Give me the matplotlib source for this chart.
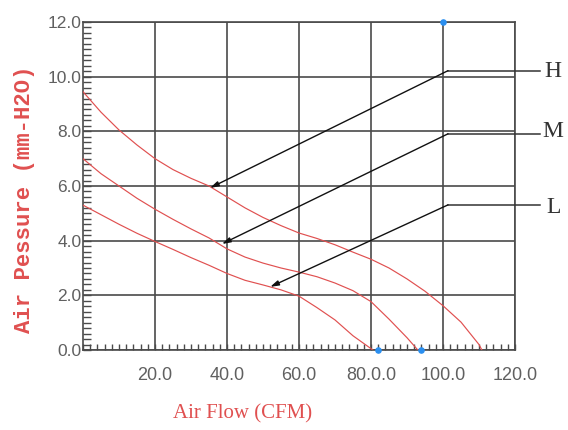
import matplotlib
matplotlib.use("Agg")
import matplotlib.pyplot as plt
from matplotlib.ticker import MultipleLocator

# ---- data ----
h_flow = [0, 5, 10, 15, 20, 25, 30, 35, 40, 45, 50, 55, 60, 65, 70, 75, 80, 85, 90, 95, 100, 105, 110, 110.8]
h_pres = [9.45, 8.7, 8.05, 7.5, 7.0, 6.6, 6.28, 6.0, 5.6, 5.2, 4.85, 4.55, 4.28, 4.08, 3.85, 3.58, 3.32, 3.0, 2.6, 2.15, 1.62, 1.02, 0.2, 0.0]

m_flow = [0, 5, 10, 15, 20, 25, 30, 35, 40, 45, 50, 55, 60, 65, 70, 75, 80, 85, 90, 93]
m_pres = [7.0, 6.45, 6.0, 5.55, 5.15, 4.78, 4.43, 4.1, 3.7, 3.4, 3.18, 3.0, 2.85, 2.68, 2.45, 2.17, 1.77, 1.13, 0.45, 0.0]

l_flow = [0, 5, 10, 15, 20, 25, 30, 35, 40, 45, 50, 55, 60, 65, 70, 75, 80, 80.5]
l_pres = [5.3, 4.95, 4.6, 4.27, 3.97, 3.68, 3.38, 3.1, 2.8, 2.55, 2.38, 2.2, 1.97, 1.55, 1.1, 0.52, 0.05, 0.0]

speed_labels = ["H", "M", "L"]
leader_y = [10.22, 7.91, 5.31]          # corner / label heights
arrow_tip_x = [35.3, 38.6, 52.0]
arrow_tip_y = [5.93, 3.88, 2.31]
label_y = [10.18, 7.99, 5.2]

dot_x = [100, 82, 93.9]
dot_y = [12, 0, 0]

x_ticks = [20, 40, 60, 80, 100, 120]
x_tick_labels = ["20.0", "40.0", "60.0", "80.0.0", "100.0", "120.0"]
y_ticks = [0, 2, 4, 6, 8, 10, 12]
y_tick_labels = ["0.0", "2.0", "4.0", "6.0", "8.0", "10.0", "12.0"]

# ---- figure ----
W, H = 568, 430
fig = plt.figure(figsize=(W / 100, H / 100), dpi=100)
ax = fig.add_axes([83 / W, 1 - 350 / H, (515 - 83) / W, (350 - 22) / H])

red = "#e05050"
grid_c = "#4a4a4a"

for xs, ys in [(h_flow, h_pres), (m_flow, m_pres), (l_flow, l_pres)]:
    ax.plot(xs, ys, color=red, lw=0.85, zorder=3)

ax.set_xlim(0, 120)
ax.set_ylim(0, 12)

tick_font = ["Liberation Sans", "DejaVu Sans"]
ax.set_xticks(x_ticks, labels=x_tick_labels, family=tick_font)
ax.set_yticks(y_ticks, labels=y_tick_labels, family=tick_font)
ax.xaxis.set_minor_locator(MultipleLocator(2))
ax.yaxis.set_minor_locator(MultipleLocator(0.2))

ax.grid(True, which="major", color=grid_c, lw=1.2, zorder=1)
for s in ax.spines.values():
    s.set_color(grid_c)
    s.set_linewidth(1.2)

ax.tick_params(axis="x", which="both", direction="in", length=4, width=1, color=grid_c,
               pad=12, labelsize=13, labelcolor="#606060")
ax.tick_params(axis="y", which="both", direction="in", length=6, width=1, color=grid_c,
               pad=1, labelsize=12.5, labelcolor="#606060")

# leaders and arrows
for name, ly, tx, ty, lab_y in zip(speed_labels, leader_y, arrow_tip_x, arrow_tip_y, label_y):
    ax.plot([101.4, 127.0], [ly, ly], color="#333333", lw=1.1, clip_on=False, zorder=4)
    ax.annotate("", xy=(tx, ty), xytext=(101.4, ly),
                arrowprops=dict(arrowstyle="-|>,head_length=0.5,head_width=0.15",
                                color="#111111", lw=1.0, shrinkA=0, shrinkB=0),
                annotation_clip=False, zorder=4)
    ax.text(130.6, lab_y, name, ha="center", va="center", fontsize=17,
            family=["Liberation Serif", "DejaVu Serif"], color="#333333", clip_on=False)

ax.scatter(dot_x, dot_y, s=14, color="#2a8ff0", zorder=5, clip_on=False)

fig.text(243 / W, 1 - 414 / H, "Air Flow (CFM)", ha="center", va="center",
         fontsize=15, family=["Liberation Serif", "DejaVu Serif"], color=red)
fig.text(25 / W, 1 - 199 / H, "Air Pessure (mm-H2O)", ha="center", va="center",
         rotation=90, fontsize=16, fontweight="bold",
         family=["Liberation Mono", "DejaVu Sans Mono"], color=red)

fig.savefig("out.png", dpi=100)
